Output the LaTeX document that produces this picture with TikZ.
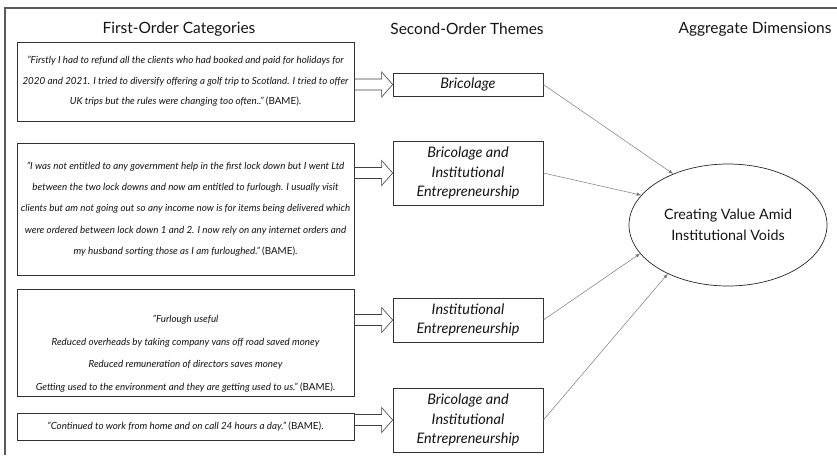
\documentclass[tikz,border=0pt]{standalone}
\usepackage{fontspec}
\setmainfont{Lato}
\usetikzlibrary{calc,arrows.meta,shapes.geometric}
\definecolor{framegray}{HTML}{5A5A5A}
\definecolor{txt}{HTML}{141414}
\definecolor{linegray}{HTML}{7A7A7A}
\newcommand{\blockarrow}[2]{%
  \draw[blockarr] ($(#1.east |- #2.west)+(0,-5.5)$) -- ($(#2.west)+(-11,-5.5)$)
    -- ($(#2.west)+(-11,-12.5)$) -- (#2.west) -- ($(#2.west)+(-11,12.5)$)
    -- ($(#2.west)+(-11,5.5)$) -- ($(#1.east |- #2.west)+(0,5.5)$);}
\begin{document}
\begin{tikzpicture}[x=1pt,y=-1pt,
  quote/.style={draw=black!80, line width=0.7pt, minimum width=337pt, inner sep=0pt,
    align=center, font=\fontsize{9.8}{20.5}\selectfont\itshape, text=txt},
  theme/.style={draw=black!80, line width=0.7pt, minimum width=150pt, inner sep=0pt,
    align=center, font=\fontsize{14.5}{19.5}\selectfont\itshape, text=txt},
  head/.style={font=\fontsize{15.5}{18}\selectfont, text=txt},
  blockarr/.style={draw=black!75, line width=0.6pt, line join=miter},
  thinarr/.style={draw=linegray, line width=0.5pt, -{Latex[length=4.5pt,width=3.5pt]}}
]
\useasboundingbox (0,0) rectangle (837,459);
\fill[white] (0,0) rectangle (837,459);
\draw[framegray, line width=1.8pt] (837,8) -- (5,8) -- (5,455);

\node[head] (h1) at (179,29) {First-Order Categories};
\node[head] (h2) at (467,29) {Second-Order Themes};
\node[head] (h3) at (755,29) {Aggregate Dimensions};

\node[quote, minimum height=79pt] (b1) at (185.5,81.5)
  {"Firstly I had to refund all the clients who had booked and paid for holidays for\\
   2020 and 2021. I tried to diversify offering a golf trip to Scotland. I tried to offer\\
   UK trips but the rules were changing too often.." {\upshape (BAME).}};
\node[quote, minimum height=132pt, font=\fontsize{9.8}{21.3}\selectfont\itshape] (b2) at (185.5,209)
  {"I was not entitled to any government help in the first lock down but I went Ltd\\
   between the two lock downs and now am entitled to furlough. I usually visit\\
   clients but am not going out so any income now is for items being delivered which\\
   were ordered between lock down 1 and 2. I now rely on any internet orders and\\
   my husband sorting those as I am furloughed." {\upshape (BAME).}};
\node[quote, minimum height=107pt, font=\fontsize{9.8}{22.5}\selectfont\itshape] (b3) at (185.5,342.5)
  {\rule{0pt}{30pt}"Furlough useful\\
   Reduced overheads by taking company vans off road saved money\\
   Reduced remuneration of directors saves money\\
   Getting used to the environment and they are getting used to us." {\upshape (BAME).}};
\node[quote, minimum height=27pt] (b4) at (185.5,426.5)
  {"Continued to work from home and on call 24 hours a day." {\upshape (BAME).}};

\node[theme, minimum height=23pt] (t1) at (468,84.5) {Bricolage};
\node[theme, minimum height=64pt] (t2) at (468,173) {Bricolage and\\Institutional\\Entrepreneurship};
\node[theme, minimum height=44pt] (t3) at (468,320) {Institutional\\Entrepreneurship};
\node[theme, minimum height=64pt] (t4) at (468,420) {Bricolage and\\Institutional\\Entrepreneurship};

\node[ellipse, draw=black!85, line width=0.7pt, minimum width=198pt, minimum height=122pt,
  inner sep=0pt, align=center, font=\fontsize{14.3}{20.5}\selectfont, text=txt] (e) at (728,225)
  {Creating Value Amid\\Institutional Voids};

\blockarrow{b1}{t1}
\blockarrow{b2}{t2}
\blockarrow{b3}{t3}
\blockarrow{b4}{t4}

\draw[thinarr] (t1.east) -- (e.137);
\draw[thinarr] (t2.east) -- (e.161);
\draw[thinarr] (t3.east) -- (e.198);
\draw[thinarr] (t4.east) -- (e.219);
\end{tikzpicture}
\end{document}
